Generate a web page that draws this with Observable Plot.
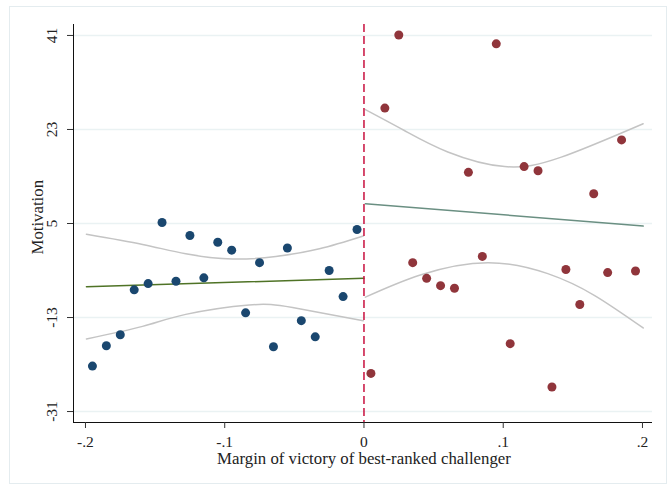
<!DOCTYPE html>
<html><head><meta charset="utf-8">
<script src="https://cdn.jsdelivr.net/npm/d3@7"></script>
<script src="https://cdn.jsdelivr.net/npm/@observablehq/plot@0.6"></script>
<style>
body{margin:0;background:#fff;}
#wrap{position:relative;width:671px;height:485px;}
#border{position:absolute;left:9px;top:6px;width:658px;height:478px;border:1px solid #e4ecef;box-sizing:border-box;pointer-events:none;}
#wrap svg{position:absolute;left:0;top:0;}
</style></head><body>
<div id="wrap"><div id="border"></div></div>
<script>
// Binned scatter: left of cutoff (challenger lost) and right (challenger won)
const leftX = [-0.195,-0.185,-0.175,-0.165,-0.155,-0.145,-0.135,-0.125,-0.115,-0.105,-0.095,-0.085,-0.075,-0.065,-0.055,-0.045,-0.035,-0.025,-0.015,-0.005];
const leftY = [-22.3,-18.4,-16.3,-7.7,-6.5,5.2,-6.05,2.7,-5.4,1.4,-0.1,-12.1,-2.5,-18.6,0.3,-13.6,-16.7,-4.0,-9.0,3.85];
const rightX = [0.005,0.015,0.025,0.035,0.045,0.055,0.065,0.075,0.085,0.095,0.105,0.115,0.125,0.135,0.145,0.155,0.165,0.175,0.185,0.195];
const rightY = [-23.7,27.1,41.1,-2.5,-5.5,-6.9,-7.4,14.8,-1.3,39.4,-18.0,15.9,15.1,-26.3,-3.8,-10.5,10.7,-4.4,21.0,-4.1];

// Linear fits
const fitLeftX = [-0.1993, 0];
const fitLeftY = [-7.1, -5.5];
const fitRightX = [0.001, 0.2005];
const fitRightY = [8.8, 4.5];

// Confidence bands
const ciLeftUpX = [-0.1993,-0.159,-0.128,-0.0945,-0.0633,-0.032,-0.0005];
const ciLeftUpY = [2.95,1.0,-0.8,-1.8,-1.3,0.15,2.6];
const ciLeftLoX = [-0.1993,-0.159,-0.128,-0.0825,-0.0513,-0.0005];
const ciLeftLoY = [-17.1,-14.7,-12.4,-10.6,-11.1,-13.6];
const ciRightUpX = [0.001,0.029,0.0602,0.101,0.1417,0.2005];
const ciRightUpY = [26.8,22.8,18.7,15.9,17.7,24.1];
const ciRightLoX = [0.001,0.041,0.089,0.132,0.1657,0.2005];
const ciRightLoY = [-9.1,-4.8,-2.5,-4.6,-8.8,-15.0];

const xTicks = [-0.2,-0.1,0,0.1,0.2];
const xTickLabels = ["-.2","-.1","0",".1",".2"];
const yTicks = [41,23,5,-13,-31];
const xTitle = "Margin of victory of best-ranked challenger";
const yTitle = "Motivation";

const pts = (xs, ys) => xs.map((x, i) => ({x, y: ys[i]}));
const xMin = -0.2086, xMax = 0.2072, yMin = -33.1, yMax = 43.1;
const serif = "'Liberation Serif','Times New Roman',serif";

const chart = Plot.plot({
  width: 671, height: 485,
  marginLeft: 73, marginRight: 19, marginTop: 24, marginBottom: 63,
  style: {fontFamily: serif, fontSize: "15px", background: "transparent", color: "#222"},
  x: {domain: [xMin, xMax], axis: null},
  y: {domain: [yMin, yMax], axis: null},
  marks: [
    Plot.ruleY(yTicks, {stroke: "#eaf2f3", strokeWidth: 1.5}),
    Plot.line(pts(ciLeftUpX, ciLeftUpY), {x: "x", y: "y", stroke: "#c4c4c4", strokeWidth: 1.5, curve: "natural"}),
    Plot.line(pts(ciLeftLoX, ciLeftLoY), {x: "x", y: "y", stroke: "#c4c4c4", strokeWidth: 1.5, curve: "natural"}),
    Plot.line(pts(ciRightUpX, ciRightUpY), {x: "x", y: "y", stroke: "#c4c4c4", strokeWidth: 1.5, curve: "natural"}),
    Plot.line(pts(ciRightLoX, ciRightLoY), {x: "x", y: "y", stroke: "#c4c4c4", strokeWidth: 1.5, curve: "natural"}),
    Plot.line(pts(fitLeftX, fitLeftY), {x: "x", y: "y", stroke: "#4f7326", strokeWidth: 1.5}),
    Plot.line(pts(fitRightX, fitRightY), {x: "x", y: "y", stroke: "#6a8f82", strokeWidth: 1.5}),
    Plot.ruleX([0], {stroke: "#c8103e", strokeWidth: 1.5, strokeDasharray: "8,4"}),
    Plot.dot(pts(leftX, leftY), {x: "x", y: "y", r: 4.5, fill: "#1a476f", stroke: "none"}),
    Plot.dot(pts(rightX, rightY), {x: "x", y: "y", r: 4.5, fill: "#90353b", stroke: "none"}),
    // axis lines
    Plot.ruleX([xMin], {stroke: "#111", strokeWidth: 1}),
    Plot.ruleY([yMin], {stroke: "#111", strokeWidth: 1}),
    Plot.axisX({ticks: xTicks, tickFormat: d => xTickLabels[xTicks.indexOf(d)], tickSize: 6, tickPadding: 7, label: null, fontSize: 15.5, stroke: "#333"}),
    Plot.axisY({ticks: yTicks, tickFormat: () => "", tickSize: 6, label: null, stroke: "#333"}),
    Plot.text(yTicks, {y: d => d, text: d => String(d), frameAnchor: "left", dx: -21, rotate: -90, textAnchor: "middle", lineAnchor: "middle", fontSize: 15.5, fill: "#222"}),
    Plot.text([yTitle], {frameAnchor: "left", dx: -36, y: 6.2, rotate: -90, text: d => d, textAnchor: "middle", lineAnchor: "middle", fontSize: 16.8, fill: "#222"}),
    Plot.text([xTitle], {frameAnchor: "bottom", dy: 36, x: 0, text: d => d, textAnchor: "middle", lineAnchor: "middle", fontSize: 16.8, fill: "#222"})
  ]
});
document.getElementById("wrap").appendChild(chart);
</script>
</body></html>
